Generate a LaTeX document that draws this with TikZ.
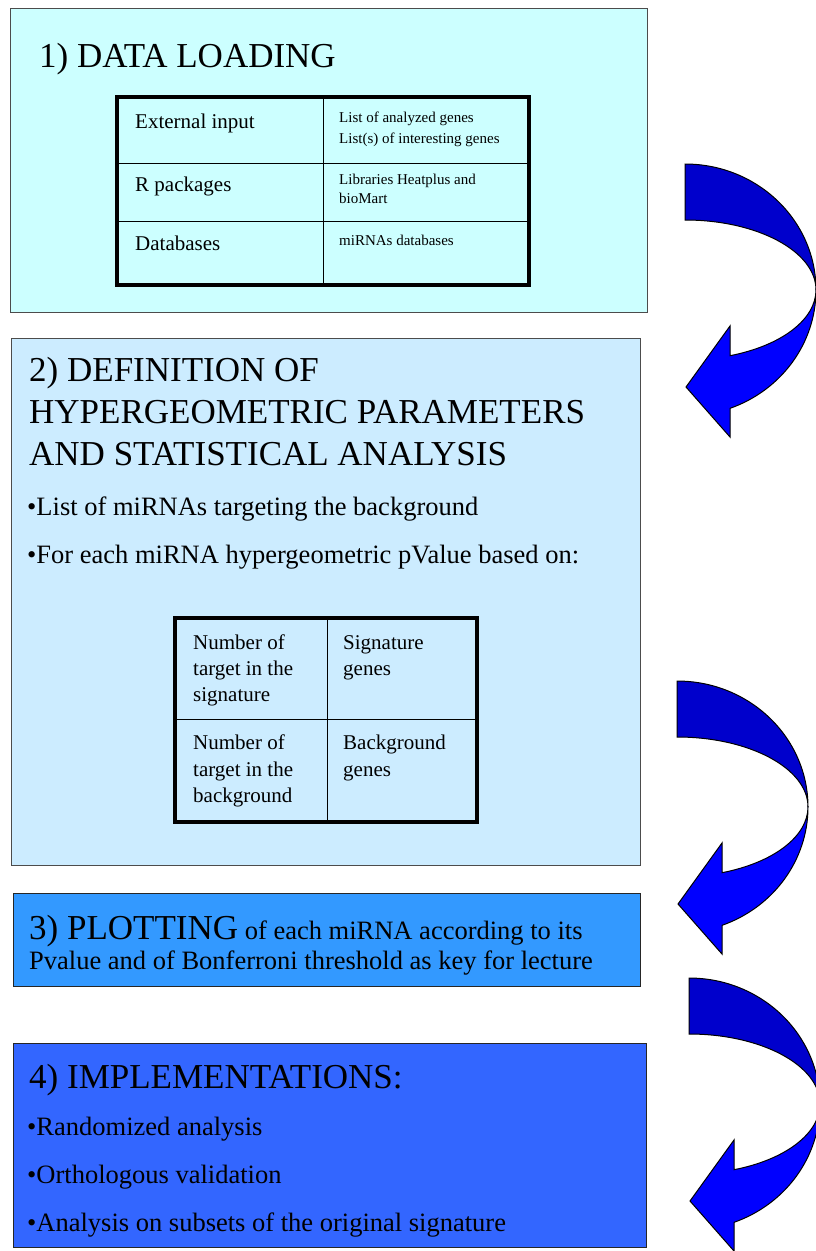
\documentclass[tikz,border=0pt]{standalone}
\usepackage{fontspec}
\setmainfont{Liberation Serif}
\definecolor{boxone}{HTML}{CCFFFF}
\definecolor{boxtwo}{HTML}{CCECFF}
\definecolor{boxthree}{HTML}{3399FF}
\definecolor{boxfour}{HTML}{3366FF}
\definecolor{arrowdark}{HTML}{0000CC}
\definecolor{arrowbright}{HTML}{0000FF}
\newcommand{\curvedarrowshape}[2]{%
  \begin{scope}[shift={(#1,#2)}]
    \path[darkband] (0,-126) arc[start angle=-90,end angle=0,x radius=131,y radius=126]
      arc[start angle=0,end angle=-90,x radius=131,y radius=70] -- cycle;
    \path[brightband] (131,0) arc[start angle=0,end angle=69.9,x radius=131,y radius=126]
      -- (45,147) -- (1,97) -- (45,36) -- (45,65.7)
      arc[start angle=69.9,end angle=0,x radius=131,y radius=70] -- cycle;
  \end{scope}}
\begin{document}
\begin{tikzpicture}[x=1pt,y=-1pt,
  box/.style={draw=black!70, line width=0.9pt, anchor=north west, inner sep=0pt, outer sep=0pt},
  tblframe/.style={draw=black, line width=4pt, line cap=rect},
  tblgrid/.style={draw=black, line width=0.9pt},
  big/.style={font=\fontsize{35}{41}\selectfont, anchor=base west, inner sep=0pt},
  txt/.style={font=\fontsize{26.5}{30}\selectfont, anchor=base west, inner sep=0pt},
  cell/.style={font=\fontsize{21}{24}\selectfont, anchor=base west, inner sep=0pt},
  smallcell/.style={font=\fontsize{15}{17}\selectfont, anchor=base west, inner sep=0pt},
  darkband/.style={fill=arrowdark, draw=black, line width=1pt, line join=miter},
  brightband/.style={fill=arrowbright, draw=black, line width=1pt, line join=miter}]
\useasboundingbox (0,0) rectangle (815,1251);

% ---------- Box 1 ----------
\node[box, fill=boxone, minimum width=637pt, minimum height=304pt] (box1) at (10,8) {};
\node[big] (title1) at (39,67) {1) DATA LOADING};
\draw[tblgrid] (323,97) -- (323,285) (117,163) -- (529,163) (117,221) -- (529,221);
\draw[tblframe] (117,97) rectangle (529,285);
\node[cell] (c11) at (135,128) {External input};
\node[cell] (c21) at (135,191) {R packages};
\node[cell] (c31) at (135,250) {Databases};
\node[smallcell] (c12a) at (339,122) {List of analyzed genes};
\node[smallcell] (c12b) at (339,143) {List(s) of interesting genes};
\node[smallcell] (c22a) at (339,184) {Libraries Heatplus and};
\node[smallcell] (c22b) at (339,203) {bioMart};
\node[smallcell] (c32) at (339,245) {miRNAs databases};

% ---------- Box 2 ----------
\node[box, fill=boxtwo, minimum width=629pt, minimum height=527pt] (box2) at (11,338) {};
\node[big] (title2a) at (29,381) {2) DEFINITION OF};
\node[big] (title2b) at (29,423) {HYPERGEOMETRIC PARAMETERS};
\node[big] (title2c) at (29,465) {AND STATISTICAL ANALYSIS};
\node[txt] (b21) at (27,515) {\textbullet List of miRNAs targeting the background};
\node[txt] (b22) at (27,563) {\textbullet For each miRNA hypergeometric pValue based on:};
\draw[tblgrid] (327,618) -- (327,822) (175,719) -- (477,719);
\draw[tblframe] (175,618) rectangle (477,822);
\node[cell] (d11a) at (193,649) {Number of};
\node[cell] (d11b) at (193,675) {target in the};
\node[cell] (d11c) at (193,701) {signature};
\node[cell] (d12a) at (343,649) {Signature};
\node[cell] (d12b) at (343,675) {genes};
\node[cell] (d21a) at (193,749) {Number of};
\node[cell] (d21b) at (193,776) {target in the};
\node[cell] (d21c) at (193,802) {background};
\node[cell] (d22a) at (343,749) {Background};
\node[cell] (d22b) at (343,776) {genes};

% ---------- Box 3 ----------
\node[box, draw=black!85, fill=boxthree, minimum width=627pt, minimum height=93pt] (box3) at (13,893) {};
\node[txt] (p1) at (29,939) {{\fontsize{35}{41}\selectfont 3) PLOTTING} of each miRNA according to its};
\node[txt] (p2) at (29,969) {Pvalue and of Bonferroni threshold as key for lecture};

% ---------- Box 4 ----------
\node[box, draw=black!85, fill=boxfour, minimum width=633pt, minimum height=204pt] (box4) at (13,1043) {};
\node[big] (title4) at (29,1088) {4) IMPLEMENTATIONS:};
\node[txt] (b41) at (27,1135) {\textbullet Randomized analysis};
\node[txt] (b42) at (27,1183) {\textbullet Orthologous validation};
\node[txt] (b43) at (27,1231) {\textbullet Analysis on subsets of the original signature};

% ---------- Curved arrows ----------
\curvedarrowshape{685}{290}
\curvedarrowshape{677}{807}
\curvedarrowshape{689}{1104}
\end{tikzpicture}
\end{document}
